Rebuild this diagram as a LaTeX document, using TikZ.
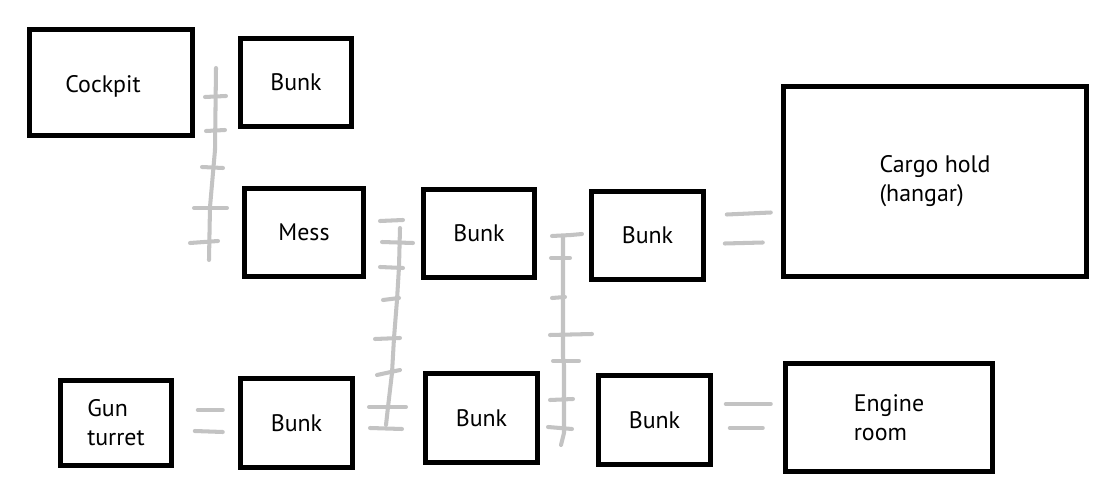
\documentclass[tikz,border=0pt]{standalone}
\usepackage{fontspec}
\setmainfont{PT Sans}
\usepackage{tikz}
\usetikzlibrary{positioning}
\definecolor{pasillo}{RGB}{195,195,195}
\tikzset{
    sala/.style={rectangle, draw=black, line width=2.6pt, inner sep=0pt, align=left, font=\fontsize{13.6}{16.5}\selectfont},
    trazo/.style={draw=pasillo, line width=2.3pt, line cap=round, line join=round}
}

\begin{document}
\begin{tikzpicture}[x=0.02cm, y=-0.02cm]
    % Marco del dibujo (1110 x 500)
    \useasboundingbox (0,0) rectangle (1110,500);

    % 1. Fila superior
    \node[sala, minimum width=3.26cm, minimum height=2.12cm, text height=0.75cm, text depth=0.35cm] (cockpit) at (111,82.5) {Cockpit\hspace*{0.32cm}};
    \node[sala, minimum width=2.22cm, minimum height=1.76cm] (bunk_a) at (296,82.5) {Bunk};

    % 2. Fila del medio
    \node[sala, minimum width=2.38cm, minimum height=1.76cm] (mess) at (304,232.5) {Mess};
    \node[sala, minimum width=2.22cm, minimum height=1.76cm] (bunk_b) at (479,233.5) {Bunk};
    \node[sala, minimum width=2.24cm, minimum height=1.76cm] (bunk_c) at (647.5,235.5) {Bunk};
    \node[sala, minimum width=6.06cm, minimum height=3.80cm] (cargo) at (935,181.5) {Cargo hold\\(hangar)};

    % 3. Fila inferior
    \node[sala, minimum width=2.22cm, minimum height=1.70cm] (gun) at (116,423) {Gun\\turret};
    \node[sala, minimum width=2.24cm, minimum height=1.78cm] (bunk_d) at (296.5,423) {Bunk};
    \node[sala, minimum width=2.24cm, minimum height=1.78cm] (bunk_e) at (481.5,418) {Bunk};
    \node[sala, minimum width=2.24cm, minimum height=1.78cm] (bunk_f) at (654.5,420) {Bunk};
    \node[sala, minimum width=4.14cm, minimum height=2.16cm] (engine) at (889,417.5) {Engine\\room};

    % --- ESCALERAS ---

    % Escalera entre cockpit y mess
    \coordinate (esc_a_top) at (216,68);
    \coordinate (esc_a_bot) at (209,260);
    \draw[trazo] (esc_a_top) -- (215,150) -- (210,207) -- (esc_a_bot);
    \draw[trazo] (205,97) -- (226,96);
    \draw[trazo] (206,131) -- (225,130);
    \draw[trazo] (202,167) -- (223,168);
    \draw[trazo] (194,208) -- (227,208);
    \draw[trazo] (190,243) -- (218,241);

    % Escalera entre mess y la fila inferior
    \coordinate (esc_b_top) at (400,228);
    \coordinate (esc_b_bot) at (386,425);
    \draw[trazo] (esc_b_top) -- (399,267) -- (397,300) -- (394,338) -- (392,373) -- (388,407) -- (esc_b_bot);
    \draw[trazo] (380,221) -- (403,220);
    \draw[trazo] (382,242) -- (413,243);
    \draw[trazo] (380,267) -- (403,268);
    \draw[trazo] (383,300) -- (399,298);
    \draw[trazo] (375,339) -- (400,338);
    \draw[trazo] (377,375) -- (400,370);
    \draw[trazo] (369,407) -- (406,407);
    \draw[trazo] (370,428) -- (402,429);

    % Escalera entre las literas del centro
    \coordinate (esc_c_top) at (563,237);
    \coordinate (esc_c_bot) at (561,445);
    \draw[trazo] (esc_c_top) -- (563,357) -- (564,365) -- (564,433) -- (esc_c_bot);
    \draw[trazo] (552,236) -- (571,235) -- (582,234);
    \draw[trazo] (551,258) -- (570,258);
    \draw[trazo] (552,298) -- (565,297);
    \draw[trazo] (550,335) -- (592,334);
    \draw[trazo] (553,361) -- (579,361);
    \draw[trazo] (550,400) -- (573,399);
    \draw[trazo] (548,427) -- (572,429);

    % --- PASILLOS (dobles) ---
    \draw[trazo] (gun.east) ++(24,-13) -- ++(25,0);
    \draw[trazo] (gun.east) ++(21,8) -- ++(28,1);
    \draw[trazo] (bunk_c.east) ++(21,-21) -- ++(44,-2);
    \draw[trazo] (bunk_c.east) ++(19,8) -- ++(38,-1);
    \draw[trazo] (bunk_f.east) ++(13,-16) -- ++(45,0);
    \draw[trazo] (bunk_f.east) ++(17,8) -- ++(33,0);
\end{tikzpicture}
\end{document}
